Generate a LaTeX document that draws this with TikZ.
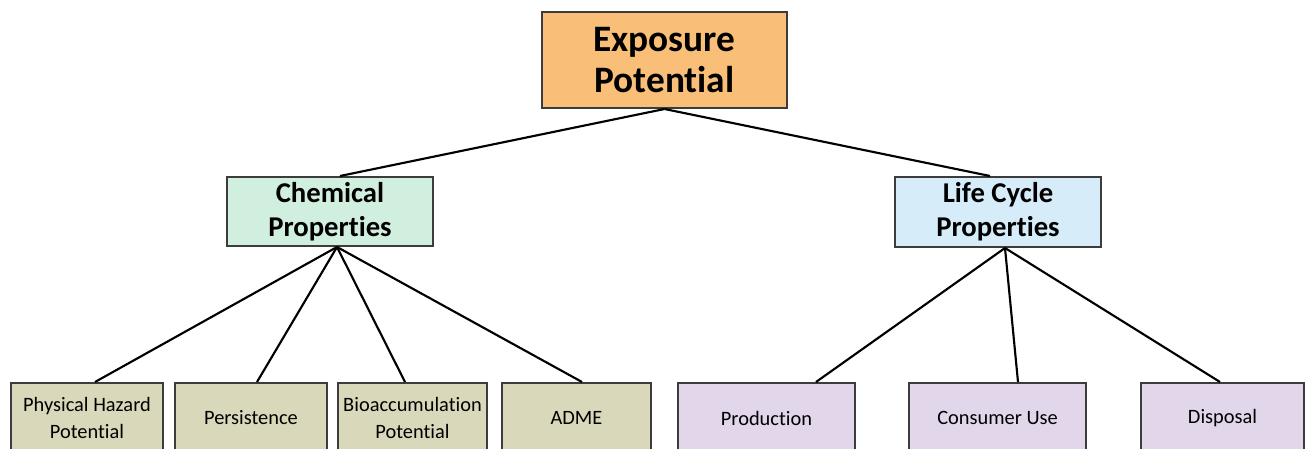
\documentclass[tikz,border=0pt]{standalone}
\usepackage{fontspec}
\setmainfont[Ligatures=NoCommon]{Carlito}
\usetikzlibrary{calc}
\definecolor{toporange}{RGB}{249,191,120}
\definecolor{chemgreen}{RGB}{209,239,223}
\definecolor{lifeblue}{RGB}{214,236,248}
\definecolor{leaftan}{RGB}{218,216,186}
\definecolor{leafpurple}{RGB}{226,214,234}
\definecolor{edgegray}{RGB}{60,60,60}
\tikzset{
  box/.style={draw=edgegray, line width=1.5pt, inner sep=0pt, align=center, text=black},
  topbox/.style={box, fill=toporange, font=\fontsize{28}{31}\selectfont\bfseries},
  midbox/.style={box, font=\fontsize{21.5}{25.5}\selectfont\bfseries},
  leafbox/.style={box, minimum height=52.5pt, font=\fontsize{15.3}{20}\selectfont},
  link/.style={draw=black, line width=1.6pt}
}
\begin{document}
\begin{tikzpicture}[x=0.75pt,y=-0.75pt]
\useasboundingbox (0,0) rectangle (1306,449);
\clip (0,0) rectangle (1306,449);
\node[topbox, minimum width=183.75pt, minimum height=72pt] (top) at (664.5,60) {Exposure\\Potential};
\node[midbox, fill=chemgreen, minimum width=154.5pt, minimum height=51.75pt] (chem) at (330,211.5) {Chemical\\Properties};
\node[midbox, fill=lifeblue, minimum width=154.5pt, minimum height=52.5pt] (life) at (998,212) {Life Cycle\\Properties};
\node[leafbox, fill=leaftan, minimum width=114pt] (phys) at (87,418) {Physical Hazard\\Potential};
\node[leafbox, fill=leaftan, minimum width=114pt] (pers) at (251,418) {Persistence};
\node[leafbox, fill=leaftan, minimum width=111.75pt] (bio) at (412.5,418) {Bioaccumulation\\Potential};
\node[leafbox, fill=leaftan, minimum width=111.75pt] (adme) at (576.5,418) {ADME};
\node[leafbox, fill=leafpurple, minimum width=132.75pt] (prod) at (766.5,418) {Production};
\node[leafbox, fill=leafpurple, minimum width=132.75pt] (cons) at (997.5,418) {Consumer Use};
\node[leafbox, fill=leafpurple, minimum width=122.25pt] (disp) at (1222.5,418) {Disposal};
\draw[link] (top.south) -- ($(chem.north)+(10,0)$);
\draw[link] (top.south) -- ($(life.north)+(-8,0)$);
\draw[link] ($(chem.south)+(7,0)$) -- ($(phys.north)+(8,0)$);
\draw[link] ($(chem.south)+(7,0)$) -- ($(pers.north)+(6,0)$);
\draw[link] ($(chem.south)+(7,0)$) -- ($(bio.north)+(-7.5,0)$);
\draw[link] ($(chem.south)+(7,0)$) -- ($(adme.north)+(5.5,0)$);
\draw[link] ($(life.south)+(7,0)$) -- ($(prod.north)+(49.5,0)$);
\draw[link] ($(life.south)+(7,0)$) -- ($(cons.north)+(20.5,0)$);
\draw[link] ($(life.south)+(7,0)$) -- ($(disp.north)+(-2.5,0)$);
\end{tikzpicture}
\end{document}
